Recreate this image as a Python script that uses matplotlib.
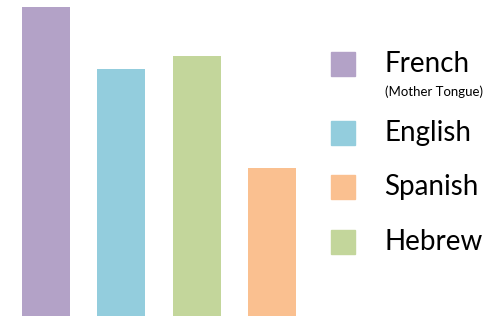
import matplotlib.pyplot as plt
from matplotlib.patches import Rectangle

# bar data (left to right)
bar_labels = ['French', 'English', 'Hebrew', 'Spanish']
bar_values = [100, 80, 84, 48]
bar_colors = ['#B3A2C7', '#93CDDD', '#C3D69B', '#FAC090']

# legend order
legend_labels = ['French', 'English', 'Spanish', 'Hebrew']
legend_colors = ['#B3A2C7', '#93CDDD', '#FAC090', '#C3D69B']

W, H = 494, 316
fig = plt.figure(figsize=(W / 100, H / 100), dpi=100)
ax = fig.add_axes([0, 0, 320 / W, 309 / H])
ax.bar(range(len(bar_values)), bar_values, 0.637, color=bar_colors)
ax.set_xlim(-0.611, 3.639)
ax.set_ylim(0, 100)
ax.axis('off')

font = ['Lato', 'DejaVu Sans']
sq_tops = [52, 121, 175, 230]
for lab, col, top in zip(legend_labels, legend_colors, sq_tops):
    fig.patches.append(Rectangle((331 / W, 1 - (top + 24) / H), 24 / W, 24 / H,
                                 transform=fig.transFigure, color=col))
    fig.text(384 / W, 1 - (top + 12) / H, lab, fontsize=20, family=font,
             va='center', ha='left')
fig.text(385 / W, 1 - 92 / H, '(Mother Tongue)', fontsize=9.5, family=font,
         va='center', ha='left')

fig.savefig('out.png', dpi=100)
